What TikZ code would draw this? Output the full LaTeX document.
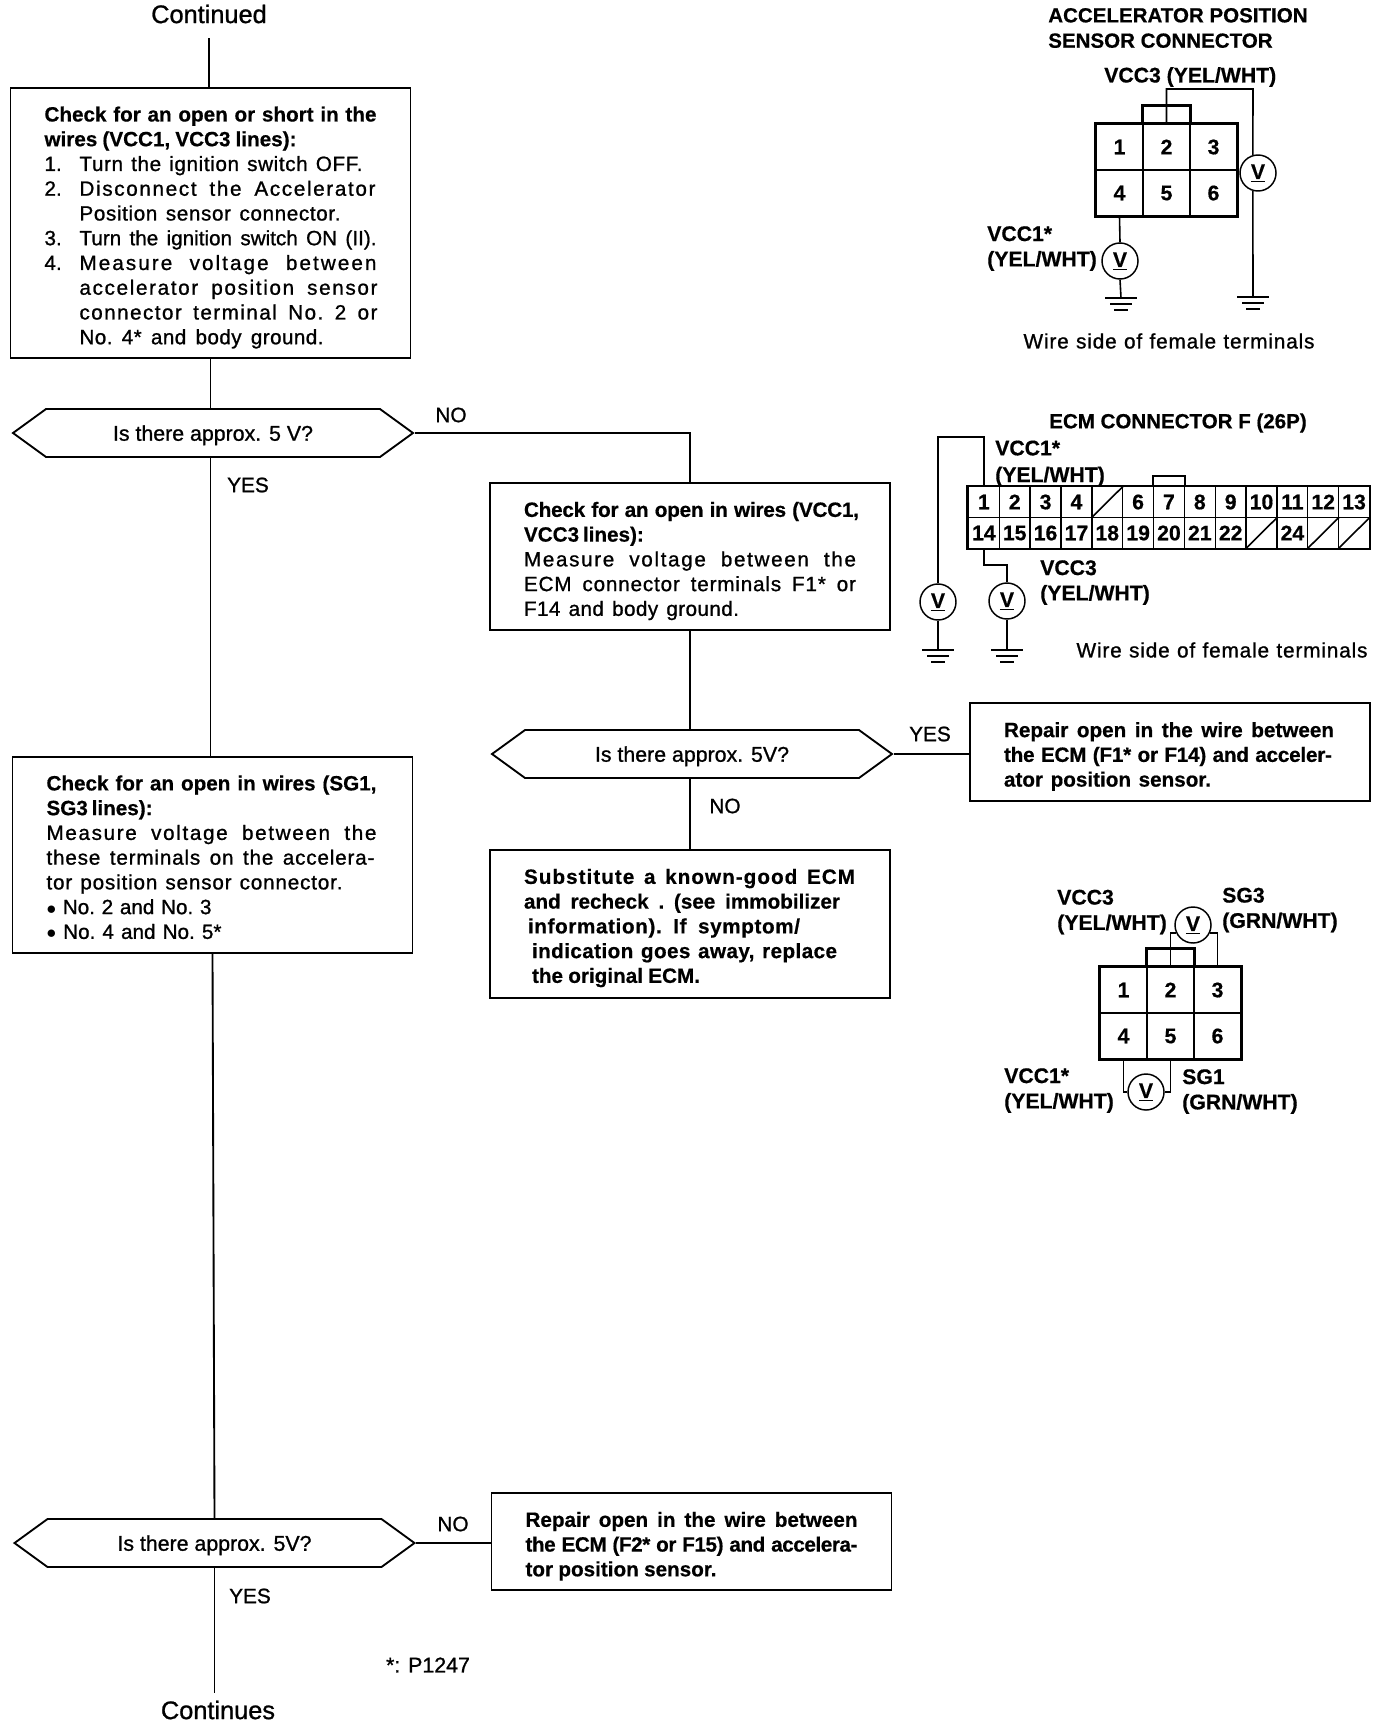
\documentclass[tikz,border=0pt]{standalone}
\usepackage{fontspec}
\setmainfont{Liberation Sans}
\newfontfamily\medfont{Liberation Sans}[FakeBold=1]
\newfontfamily\heavyfont{Liberation Sans Bold}[FakeBold=0.6]
\usepackage{tikz}
\usetikzlibrary{shapes,positioning}

\newdimen\pxu
\pxu=0.75pt
\newcommand{\bodyfont}{\medfont\fontsize{15.5}{18.56}\selectfont}
\newcommand{\labfont}{\heavyfont\fontsize{15.9}{18}\selectfont}
\newcommand{\titlefont}{\heavyfont\fontsize{15.4}{18}\selectfont}
% one printed line, stretched to its width in pixels
\newcommand{\fl}[2]{\makebox[#1\pxu][s]{\spaceskip=0pt\xspaceskip=0pt\frenchspacing #2}}
\newcommand{\hd}[2]{\fl{#1}{\heavyfont #2}}
% the same with letter spacing
\newcommand{\fs}[3]{\fl{#2}{\addfontfeature{LetterSpace=#1}#3}}
\newcommand{\hs}[3]{\fl{#2}{\heavyfont\addfontfeature{LetterSpace=#1}#3}}
\newcommand{\gnd}[1]{
    \draw[wire] ([shift={(-16,0)}]#1) -- ([shift={(16,0)}]#1);
    \draw[wire] ([shift={(-11,6)}]#1) -- ([shift={(11,6)}]#1);
    \draw[wire] ([shift={(-7,12)}]#1) -- ([shift={(7,12)}]#1);
}

\tikzset{
    flow/.style={line width=1.4pt},
    wire/.style={line width=1.2pt},
    outer/.style={line width=2pt},
    textbox/.style={draw, line width=1.4pt, inner xsep=25.5pt, inner ysep=0pt, text width=249pt,
        minimum width=300pt, align=left, font=\bodyfont},
    textdown/.style={execute at begin node={\rule{0pt}{#1}}},
    decision/.style={draw, line width=1.4pt, signal, signal to=east and west, signal from=nowhere,
        signal pointer angle=72, minimum width=300pt, minimum height=36pt, inner sep=0pt, text depth=0pt,
        font=\medfont\fontsize{16}{18}\selectfont},
    answer/.style={inner sep=0pt, font=\medfont\fontsize{15.6}{18}\selectfont},
    lab/.style={inner sep=0pt, anchor=west, align=left, font=\labfont},
    cell/.style={draw, line width=1pt, minimum width=35.25pt, minimum height=34.5pt, inner sep=0pt, font=\labfont},
    ecmcell/.style={draw, line width=1pt, minimum width=23.14pt, minimum height=22.9pt, inner sep=0pt, font=\labfont},
    meter/.style={draw, circle, line width=1.1pt, minimum size=27pt, inner sep=0pt, font=\labfont},
}

\begin{document}
\begin{tikzpicture}[x=0.75pt,y=-0.75pt]
    \useasboundingbox (0,0) rectangle (1392,1724);
    % left column
    \node[inner sep=0pt, minimum height=36pt, font=\medfont\fontsize{19}{20}\selectfont] (cont) at (209,14) {Continued};
    \node[textbox, textdown=18pt, minimum height=202.5pt] (b1) at (210.5,223) {%
        \hd{332}{Check for an open or short in the}\\
        \hd{252}{wires (VCC1, VCC3 lines):}\\
        \makebox[35\pxu][l]{1.}\fs{3}{283}{Turn the ignition switch OFF.}\\
        \makebox[35\pxu][l]{2.}\fs{8}{296}{Disconnect the Accelerator}\\
        \hspace*{35\pxu}\fs{3}{261}{Position sensor connector.}\\
        \makebox[35\pxu][l]{3.}\fl{297}{Turn the ignition switch ON (II).}\\
        \makebox[35\pxu][l]{4.}\fs{10}{297}{Measure voltage between}\\
        \hspace*{35\pxu}\fs{8}{298}{accelerator position sensor}\\
        \hspace*{35\pxu}\fs{7}{298}{connector terminal No. 2 or}\\
        \hspace*{35\pxu}\fs{2}{244}{No. 4* and body ground.}};
    \node[decision] (d1) at (213,433) {Is there approx. 5 V?};
    \node[answer] (no1) at (451,415) {NO};
    \node[answer] (yes1) at (248,485) {YES};
    \node[textbox, textdown=14.6pt, minimum height=147pt] (b3) at (212.5,855) {%
        \hd{330}{Check for an open in wires (SG1,}\\
        \hd{105}{SG3 lines):}\\
        \fs{8}{330}{Measure voltage between the}\\
        \fs{4}{328}{these terminals on the accelera-}\\
        \fs{4}{296}{tor position sensor connector.}\\
        \fl{165}{$\bullet$ No. 2 and No. 3}\\
        \fl{175}{$\bullet$ No. 4 and No. 5*}};
    \node[decision] (d3) at (214.5,1543) {Is there approx. 5V?};
    \node[answer] (no3) at (453,1524) {NO};
    \node[answer] (yes3) at (250,1596) {YES};
    \node[inner sep=0pt, minimum height=25.5pt, font=\medfont\fontsize{19}{20}\selectfont] (conts) at (218,1710) {Continues};
    \node[answer, font=\medfont\fontsize{16}{18}\selectfont] (note) at (428,1665) {*: P1247};

    % middle column
    \node[textbox, textdown=18pt, minimum height=110.25pt] (b2) at (690,556.5) {%
        \hs{-1}{335}{Check for an open in wires (VCC1,}\\
        \hd{117}{VCC3 lines):}\\
        \fs{8}{332}{Measure voltage between the}\\
        \fs{4}{332}{ECM connector terminals F1* or}\\
        \fs{2}{215}{F14 and body ground.}};
    \node[decision] (d2) at (692,754) {Is there approx. 5V?};
    \node[answer] (yes2) at (930,734) {YES};
    \node[answer] (no2) at (725,806) {NO};
    \node[textbox, textdown=17.3pt, minimum height=111pt] (b5) at (690,924) {%
        \hs{5}{331}{Substitute a known-good ECM}\\
        \hd{316}{and recheck . (see  immobilizer}\\
        \hspace*{4\pxu}\hs{3}{272}{information). If  symptom/}\\
        \hspace*{8\pxu}\hs{2}{305}{indication goes away, replace}\\
        \hspace*{8\pxu}\hd{168}{the original ECM.}};
    \node[textbox, textdown=18.3pt, minimum height=73pt] (b6) at (691.5,1541.5) {%
        \hd{332}{Repair open in the wire between}\\
        \hs{-2}{332}{the ECM (F2* or F15) and accelera-}\\
        \hd{191}{tor position sensor.}};
    \node[textbox, textdown=18pt, minimum height=73.5pt] (b4) at (1170,752) {%
        \hd{330}{Repair open in the wire between}\\
        \hs{-1}{328}{the ECM (F1* or F14) and acceler-}\\
        \hd{207}{ator position sensor.}};

    % flow lines
    \draw[flow] (cont.south) -- (cont.south |- b1.north);
    \draw[flow] (b1.south) -- (b1.south |- d1.north);
    \draw[flow] (b1.south |- d1.south) -- (b1.south |- b3.north);
    \draw[flow] (d1.east) -| (b2.north);
    \draw[flow] (b2.south) -- (b2.south |- d2.north);
    \draw[flow] (b2.south |- d2.south) -- (b2.south |- b5.north);
    \draw[flow] (d2.east) -- (d2.east -| b4.west);
    \draw[flow] (b3.south) -- (d3.north);
    \draw[flow] (d3.east) -- (d3.east -| b6.west);
    \draw[flow] (d3.south) -- (d3.south |- conts.north);

    % accelerator position sensor connector
    \node[lab, font=\titlefont] (title1) at (1048,28) {ACCELERATOR POSITION\\[1pt]SENSOR CONNECTOR};
    \node[lab] (vcc3a) at (1104,77) {VCC3 (YEL/WHT)};
    \foreach \n/\x/\y in {1/1119.5/147,2/1166.5/147,3/1213.5/147,4/1119.5/193,5/1166.5/193,6/1213.5/193}
        \node[cell] (s\n) at (\x,\y) {\n};
    \draw[outer] (s1.north west) rectangle (s6.south east);
    \draw[outer] (s2.north west) -- ++(0,-18) -| (s2.north east);
    \node[meter] (m1) at (1258,173) {\underline{V}};
    \node[meter] (m2) at (1120,261) {\underline{V}};
    \coordinate (w1) at (1253,89);
    \coordinate (g1) at (1253,297);
    \coordinate (g2) at (1121,298);
    \draw[wire] (s2.north) |- (w1) -- (m1.106);
    \draw[wire] (m1.254) -- (g1);
    \draw[wire] (s4.south) -- (m2.north);
    \draw[wire] (m2.south) -- (g2);
    \gnd{g1}
    \gnd{g2}
    \node[lab] (vcc1a) at (987,248.5) {VCC1*\\[1pt](YEL/WHT)};
    \node[answer] (side1) at (1169,341) {\fs{4}{291}{Wire side of female terminals}};

    % ECM connector
    \node[lab, font=\titlefont] (title2) at (1049,423) {ECM CONNECTOR F (26P)};
    \foreach \n in {1,2,3,4,6,7,8,9,10,11,12,13}
        \node[ecmcell] (e\n) at ({953+30.85*\n},502) {\n};
    \foreach \n in {14,15,16,17,18,19,20,21,22,24}
        \node[ecmcell] (e\n) at ({953+30.85*(\n-13)},533) {\n};
    \node[ecmcell] (e5) at ({953+30.85*5},502) {};
    \foreach \n in {23,25,26}
        \node[ecmcell] (e\n) at ({953+30.85*(\n-13)},533) {};
    \foreach \n in {5,23,25,26}
        \draw[wire] (e\n.south west) -- (e\n.north east);
    \draw[outer] (e1.north west) rectangle (e26.south east);
    \draw[outer] (e7.north west) -- ++(0,-10) -| (e7.north east);
    \node[meter] (m3) at (938,602) {\underline{V}};
    \node[meter] (m4) at (1007,601) {\underline{V}};
    \coordinate (w2) at (938,437);
    \coordinate (w3) at (1007,565);
    \coordinate (g3) at (938,650);
    \coordinate (g4) at (1007,650);
    \draw[wire] (e1.north) |- (w2) -- (m3.north);
    \draw[wire] (e14.south) |- (w3) -- (m4.north);
    \draw[wire] (m3.south) -- (g3);
    \draw[wire] (m4.south) -- (g4);
    \gnd{g3}
    \gnd{g4}
    \node[lab] (vcc1b) at (995,463.5) {VCC1*\\[2pt](YEL/WHT)};
    \node[lab] (vcc3b) at (1040,582.5) {VCC3\\[1pt](YEL/WHT)};
    \node[answer] (side2) at (1222,650) {\fs{4}{291}{Wire side of female terminals}};

    % test connector with two meters
    \foreach \n/\x/\y in {1/1123.5/990,2/1170.5/990,3/1217.5/990,4/1123.5/1036,5/1170.5/1036,6/1217.5/1036}
        \node[cell] (r\n) at (\x,\y) {\n};
    \draw[outer] (r1.north west) rectangle (r6.south east);
    \draw[outer] (r2.north west) -- ++(0,-18) -| (r2.north east);
    \node[meter] (m5) at (1193,925) {\underline{V}};
    \node[meter] (m6) at (1146,1092) {\underline{V}};
    \draw[wire] (r2.north) |- (m5.206);
    \draw[wire] (r3.north) |- (m5.334);
    \draw[wire] (r4.south) |- (m6.west);
    \draw[wire] (r5.south) |- (m6.east);
    \node[lab] (vcc3c) at (1057,912) {VCC3\\[1pt](YEL/WHT)};
    \node[lab] (sg3) at (1222,910) {SG3\\[1pt](GRN/WHT)};
    \node[lab] (vcc1c) at (1004,1090.5) {VCC1*\\[1pt](YEL/WHT)};
    \node[lab] (sg1) at (1182,1091.5) {SG1\\[1pt](GRN/WHT)};
\end{tikzpicture}
\end{document}
